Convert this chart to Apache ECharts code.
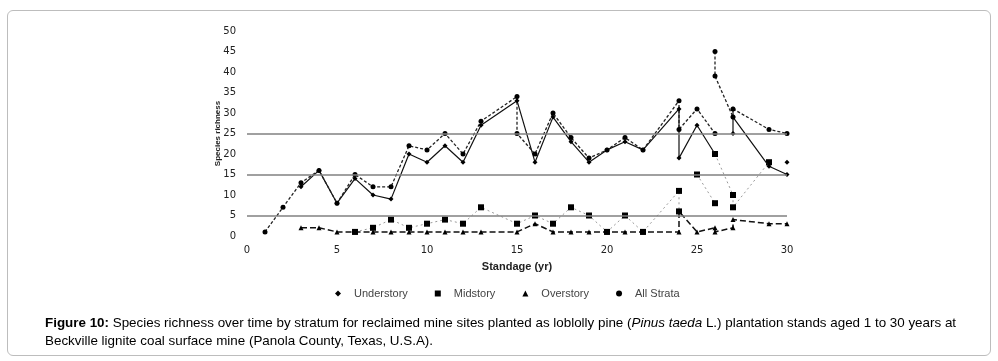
<!DOCTYPE html>
<html>
<head>
<meta charset="utf-8">
<script src="https://cdn.jsdelivr.net/npm/echarts@6/dist/echarts.min.js"></script>
<style>
  html, body { margin: 0; padding: 0; background: #fff; }
  #frame {
    position: absolute; left: 7px; top: 10px; width: 982px; height: 344px;
    border: 1px solid #bdbdbd; border-radius: 6px;
  }
  #container { position: absolute; left: 0; top: 0; width: 998px; height: 361px; }
  #caption {
    position: absolute; left: 45px; top: 314px; width: 940px;
    font-family: "Liberation Sans", Arial, sans-serif; font-size: 13.4px;
    line-height: 18px; color: #000;
  }
</style>
</head>
<body>
<div id="frame"></div>
<div id="container"></div>
<div id="caption"><b>Figure 10:</b> Species richness over time by stratum for reclaimed mine sites planted as loblolly pine (<i>Pinus taeda</i> L.) plantation stands aged 1 to 30 years at Beckville lignite coal surface mine (Panola County, Texas, U.S.A).</div>
<script>
// [standage, richness]; "-" breaks the line
var understory = [
  [3, 12], [4, 16], [5, 8], [6, 14], [7, 10], [8, 9], [9, 20], [10, 18], [11, 22],
  [12, 18], [13, 27], [15, 33], [16, 18], [17, 29], [18, 23], [19, 18], [20, 21],
  [21, 23], [22, 21], [24, 31], [24, 19], [25, 27], [26, 20], ["-", "-"],
  [27, 31], [27, 25], [27, 29], [29, 17], [30, 15], ["-", "-"], [30, 18]
];
var midstory = [
  [6, 1], [7, 2], [8, 4], [9, 2], [10, 3], [11, 4], [12, 3], [13, 7], [15, 3],
  [16, 5], [17, 3], [18, 7], [19, 5], [20, 1], [21, 5], [22, 1], [24, 11], [24, 6],
  ["-", "-"], [25, 15], [26, 8], ["-", "-"], [26, 20], [27, 10], [27, 7], [29, 18]
];
var overstory = [
  [3, 2], [4, 2], [5, 1], [6, 1], [7, 1], [8, 1], [9, 1], [10, 1], [11, 1], [12, 1],
  [13, 1], [15, 1], [16, 3], [17, 1], [18, 1], [19, 1], [20, 1], [21, 1], [22, 1],
  [24, 1], [24, 6], [25, 1], [26, 2], [26, 1], [27, 2], [27, 4], [29, 3], [30, 3]
];
var allStrata = [
  [1, 1], [2, 7], [3, 13], [4, 16], [5, 8], [6, 15], [7, 12], [8, 12], [9, 22],
  [10, 21], [11, 25], [12, 20], [13, 28], [15, 34], [15, 25], [16, 20], [17, 30],
  [18, 24], [19, 19], [20, 21], [21, 24], [22, 21], [24, 33], [24, 26], [25, 31],
  [26, 25], ["-", "-"], [26, 45], [26, 39], [27, 29], ["-", "-"], [27, 31], [29, 26], [30, 25]
];
var gridValues = [5, 15, 25];

var dom = document.getElementById("container");
var myChart = echarts.init(dom, null, { renderer: "canvas" });

var option = {
  animation: false,
  grid: { left: 247, right: 211, top: 31, bottom: 125 },
  legend: {
    bottom: 57,
    left: 330,
    itemWidth: 6,
    itemHeight: 6,
    itemGap: 27,
    textStyle: { fontFamily: "Liberation Sans", fontSize: 11, color: "#444", padding: [0, 0, 0, 8] },
    data: [
      { name: "Understory", icon: "diamond" },
      { name: "Midstory", icon: "rect" },
      { name: "Overstory", icon: "triangle" },
      { name: "All Strata", icon: "circle" }
    ]
  },
  xAxis: {
    type: "value",
    min: 0,
    max: 30,
    interval: 5,
    name: "Standage (yr)",
    nameLocation: "middle",
    nameGap: 25,
    nameTextStyle: { fontFamily: "Liberation Sans", fontSize: 11, fontWeight: "bold", color: "#222" },
    axisLine: { show: false },
    axisTick: { show: false },
    splitLine: { show: false },
    axisLabel: { fontFamily: "DejaVu Sans", fontSize: 10, color: "#222", margin: 9 }
  },
  yAxis: {
    type: "value",
    min: 0,
    max: 50,
    interval: 5,
    name: "Species richness",
    nameLocation: "middle",
    nameGap: 25,
    nameMoveOverlap: false,
    nameTextStyle: { fontFamily: "Liberation Sans", fontSize: 8, fontWeight: "bold", color: "#222" },
    axisLine: { show: false },
    axisTick: { show: false },
    splitLine: { show: false },
    axisLabel: { fontFamily: "DejaVu Sans", fontSize: 10, color: "#222", margin: 11 }
  },
  series: [
    {
      name: "Understory",
      type: "line",
      data: understory,
      symbol: "diamond",
      symbolSize: 5,
      itemStyle: { color: "#000" },
      lineStyle: { color: "#111", width: 1.2, type: "solid" },
      markLine: {
        silent: true,
        symbol: "none",
        label: { show: false },
        lineStyle: { color: "#808080", width: 1.5, type: "solid" },
        data: gridValues.map(function (v) { return { yAxis: v }; })
      },
      z: 3
    },
    {
      name: "Midstory",
      type: "line",
      data: midstory,
      symbol: "rect",
      symbolSize: 6,
      itemStyle: { color: "#000" },
      lineStyle: { color: "#999", width: 1, type: [2, 3] },
      z: 2
    },
    {
      name: "Overstory",
      type: "line",
      data: overstory,
      symbol: "triangle",
      symbolSize: 5,
      itemStyle: { color: "#000" },
      lineStyle: { color: "#111", width: 1.5, type: [6, 3] },
      z: 2
    },
    {
      name: "All Strata",
      type: "line",
      data: allStrata,
      symbol: "circle",
      symbolSize: 5,
      itemStyle: { color: "#000" },
      lineStyle: { color: "#222", width: 1.3, type: [3, 2] },
      z: 3
    }
  ]
};

myChart.setOption(option);
window.addEventListener("resize", myChart.resize);
</script>
</body>
</html>
